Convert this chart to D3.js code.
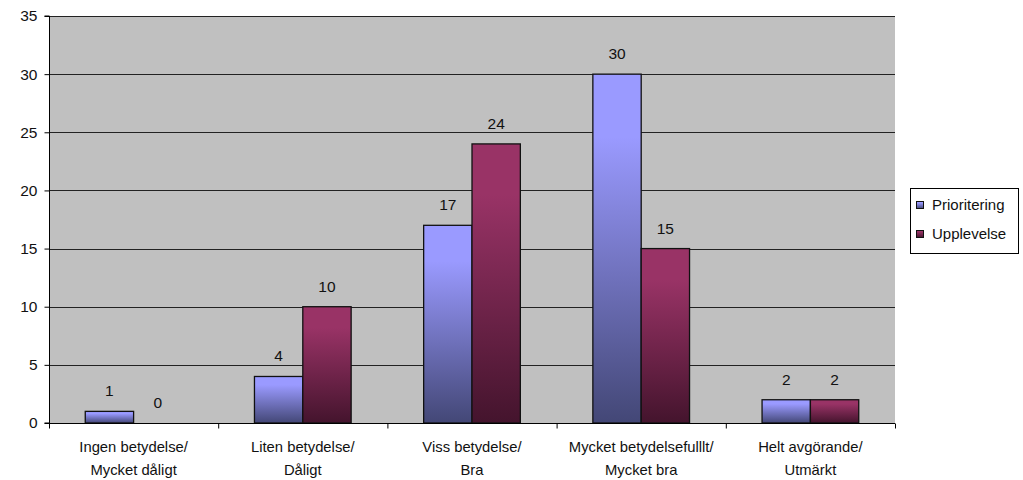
<!DOCTYPE html>
<html>
<head>
<meta charset="utf-8">
<script src="https://cdn.jsdelivr.net/npm/d3@7"></script>
<style>
  html, body { margin: 0; padding: 0; background: #ffffff; }
  svg { display: block; font-family: "Liberation Sans", Arial, sans-serif; }
</style>
</head>
<body>
<svg id="chart" width="1023" height="480"></svg>
<script>
// Category labels (two lines each)
const categories = [
  ["Ingen betydelse/", "Mycket dåligt"],
  ["Liten betydelse/", "Dåligt"],
  ["Viss betydelse/", "Bra"],
  ["Mycket betydelsefulllt/", "Mycket bra"],
  ["Helt avgörande/", "Utmärkt"]
];
const seriesNames = ["Prioritering", "Upplevelse"];
const prioritering = [1, 4, 17, 30, 2];
const upplevelse = [0, 10, 24, 15, 2];
const yTicks = [0, 5, 10, 15, 20, 25, 30, 35];

const seriesColors = [
  { top: "#9a9aff", bottom: "#434776" },
  { top: "#993366", bottom: "#44142d" }
];

const plot = { left: 49, top: 16, right: 895, bottom: 423 };
const svg = d3.select("#chart");

// Per-bar vertical gradients
const defs = svg.append("defs");
seriesColors.forEach((c, i) => {
  const g = defs.append("linearGradient")
    .attr("id", "grad" + i)
    .attr("x1", 0).attr("y1", 0).attr("x2", 0).attr("y2", 1);
  g.append("stop").attr("offset", "0%").attr("stop-color", c.top);
  g.append("stop").attr("offset", "18%").attr("stop-color", c.top);
  g.append("stop").attr("offset", "100%").attr("stop-color", c.bottom);
});

const x0 = d3.scaleBand()
  .domain(d3.range(categories.length))
  .range([plot.left, plot.right])
  .paddingInner(0).paddingOuter(0);

const catW = x0.bandwidth();
const barW = catW / 3.5;

const x1 = d3.scaleBand()
  .domain([0, 1])
  .range([(catW - 2 * barW) / 2, (catW + 2 * barW) / 2])
  .padding(0);

const y = d3.scaleLinear().domain([0, 35]).range([plot.bottom, plot.top]);

// Plot background
svg.append("rect")
  .attr("x", plot.left).attr("y", plot.top)
  .attr("width", plot.right - plot.left).attr("height", plot.bottom - plot.top)
  .attr("fill", "#c0c0c0");

// Gridlines
svg.append("g")
  .selectAll("line")
  .data(yTicks.filter(t => t > 0))
  .join("line")
  .attr("x1", plot.left).attr("x2", plot.right)
  .attr("y1", d => Math.round(y(d)) + 0.5).attr("y2", d => Math.round(y(d)) + 0.5)
  .attr("stroke", "#222").attr("stroke-width", 1);

// Bars
const data = [prioritering, upplevelse];
const barGroup = svg.append("g");
data.forEach((vals, s) => {
  barGroup.selectAll(".bar" + s)
    .data(vals)
    .join("rect")
    .attr("x", (d, i) => x0(i) + x1(s))
    .attr("y", d => y(d))
    .attr("width", barW)
    .attr("height", d => y(0) - y(d))
    .attr("fill", "url(#grad" + s + ")")
    .attr("stroke", d => d > 0 ? "#111" : "none")
    .attr("stroke-width", 1.3);
});

// Value labels
data.forEach((vals, s) => {
  svg.append("g").selectAll("text")
    .data(vals)
    .join("text")
    .attr("x", (d, i) => x0(i) + x1(s) + barW / 2)
    .attr("y", d => y(d) - 15)
    .attr("text-anchor", "middle")
    .attr("font-size", "15.5px")
    .attr("fill", "#111")
    .text(d => d);
});

// Y axis
const yAxis = d3.axisLeft(y).tickValues(yTicks).tickSize(5).tickPadding(7);
const yg = svg.append("g")
  .attr("transform", `translate(${plot.left + 0.5},0)`)
  .call(yAxis);
yg.select(".domain").attr("stroke", "#000").attr("d", `M-5,${plot.top}H0V${plot.bottom}H-5`);
yg.selectAll(".tick line").attr("stroke", "#000");
yg.selectAll(".tick text")
  .attr("font-size", "15.5px").attr("fill", "#111")
  .attr("font-family", "Liberation Sans, Arial, sans-serif");

// X axis
const xLin = d3.scaleLinear().domain([0, categories.length]).range([plot.left, plot.right]);
const xAxis = d3.axisBottom(xLin).tickValues(d3.range(categories.length + 1)).tickSize(5).tickFormat("");
const xg = svg.append("g")
  .attr("transform", `translate(0,${plot.bottom + 0.5})`)
  .call(xAxis);
xg.select(".domain").attr("stroke", "#000").attr("d", `M${plot.left},0H${plot.right}`);
xg.selectAll(".tick line").attr("stroke", "#000");

// Category labels
const catG = svg.append("g");
categories.forEach((lines, i) => {
  const t = catG.append("text")
    .attr("x", x0(i) + catW / 2)
    .attr("y", 452)
    .attr("text-anchor", "middle")
    .attr("font-size", "14.8px")
    .attr("fill", "#111");
  lines.forEach((ln, j) => {
    t.append("tspan")
      .attr("x", x0(i) + catW / 2)
      .attr("dy", j === 0 ? 0 : 23)
      .text(ln);
  });
});

// Legend
const legend = svg.append("g");
legend.append("rect")
  .attr("x", 910.5).attr("y", 188.5)
  .attr("width", 108).attr("height", 65)
  .attr("fill", "#fff").attr("stroke", "#000");
seriesNames.forEach((name, i) => {
  const yy = 201 + i * 29;
  legend.append("rect")
    .attr("x", 916.5).attr("y", yy + 0.5)
    .attr("width", 7).attr("height", 7)
    .attr("fill", "url(#grad" + i + ")")
    .attr("stroke", "#111");
  legend.append("text")
    .attr("x", 932).attr("y", yy + 9)
    .attr("font-size", "15px").attr("fill", "#111")
    .text(name);
});
</script>
</body>
</html>
